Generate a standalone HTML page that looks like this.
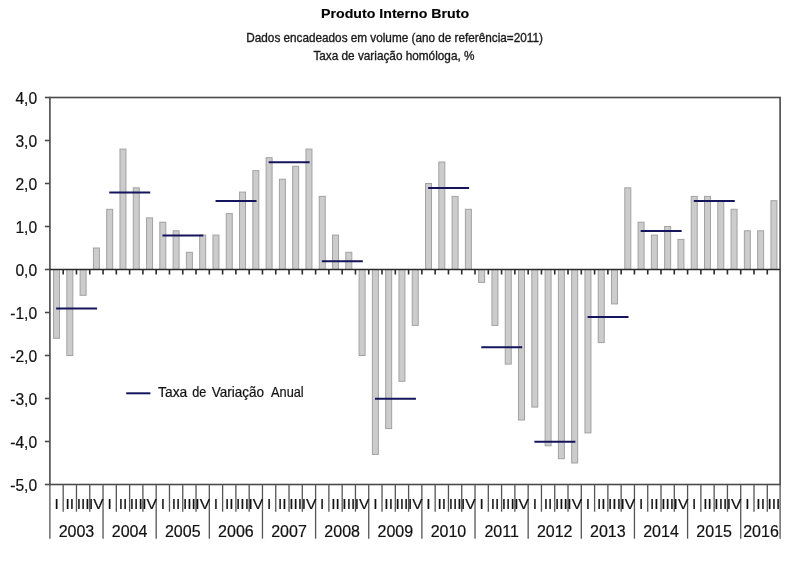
<!DOCTYPE html>
<html><head><meta charset="utf-8">
<style>
html,body{margin:0;padding:0;background:#fff;width:806px;height:561px;overflow:hidden;}
svg{position:absolute;left:0;top:0;will-change:transform;filter:blur(0.35px);}
text{font-family:"Liberation Sans",sans-serif;}
.ax{font-size:15.6px;}
.q{font-size:15.5px;}
.yr{font-size:16px;}
</style></head><body>
<svg width="806" height="561" viewBox="0 0 806 561">
<g fill="#cccccc" stroke="#a2a2a2" stroke-width="1"><rect x="53.54" y="269.50" width="6.00" height="68.80"/><rect x="66.83" y="269.50" width="6.00" height="86.00"/><rect x="80.11" y="269.50" width="6.00" height="25.80"/><rect x="93.40" y="248.00" width="6.00" height="21.50"/><rect x="106.68" y="209.30" width="6.00" height="60.20"/><rect x="119.97" y="149.10" width="6.00" height="120.40"/><rect x="133.25" y="187.80" width="6.00" height="81.70"/><rect x="146.54" y="217.90" width="6.00" height="51.60"/><rect x="159.82" y="222.20" width="6.00" height="47.30"/><rect x="173.11" y="230.80" width="6.00" height="38.70"/><rect x="186.39" y="252.30" width="6.00" height="17.20"/><rect x="199.68" y="235.10" width="6.00" height="34.40"/><rect x="212.96" y="235.10" width="6.00" height="34.40"/><rect x="226.25" y="213.60" width="6.00" height="55.90"/><rect x="239.53" y="192.10" width="6.00" height="77.40"/><rect x="252.82" y="170.60" width="6.00" height="98.90"/><rect x="266.10" y="157.70" width="6.00" height="111.80"/><rect x="279.39" y="179.20" width="6.00" height="90.30"/><rect x="292.67" y="166.30" width="6.00" height="103.20"/><rect x="305.96" y="149.10" width="6.00" height="120.40"/><rect x="319.24" y="196.40" width="6.00" height="73.10"/><rect x="332.53" y="235.10" width="6.00" height="34.40"/><rect x="345.81" y="252.30" width="6.00" height="17.20"/><rect x="359.10" y="269.50" width="6.00" height="86.00"/><rect x="372.38" y="269.50" width="6.00" height="184.90"/><rect x="385.67" y="269.50" width="6.00" height="159.10"/><rect x="398.95" y="269.50" width="6.00" height="111.80"/><rect x="412.24" y="269.50" width="6.00" height="55.90"/><rect x="425.52" y="183.50" width="6.00" height="86.00"/><rect x="438.81" y="162.00" width="6.00" height="107.50"/><rect x="452.09" y="196.40" width="6.00" height="73.10"/><rect x="465.38" y="209.30" width="6.00" height="60.20"/><rect x="478.66" y="269.50" width="6.00" height="12.90"/><rect x="491.95" y="269.50" width="6.00" height="55.90"/><rect x="505.23" y="269.50" width="6.00" height="94.60"/><rect x="518.52" y="269.50" width="6.00" height="150.50"/><rect x="531.80" y="269.50" width="6.00" height="137.60"/><rect x="545.09" y="269.50" width="6.00" height="176.30"/><rect x="558.37" y="269.50" width="6.00" height="189.20"/><rect x="571.66" y="269.50" width="6.00" height="193.50"/><rect x="584.94" y="269.50" width="6.00" height="163.40"/><rect x="598.23" y="269.50" width="6.00" height="73.10"/><rect x="611.51" y="269.50" width="6.00" height="34.40"/><rect x="624.80" y="187.80" width="6.00" height="81.70"/><rect x="638.08" y="222.20" width="6.00" height="47.30"/><rect x="651.37" y="235.10" width="6.00" height="34.40"/><rect x="664.65" y="226.50" width="6.00" height="43.00"/><rect x="677.94" y="239.40" width="6.00" height="30.10"/><rect x="691.22" y="196.40" width="6.00" height="73.10"/><rect x="704.51" y="196.40" width="6.00" height="73.10"/><rect x="717.79" y="200.70" width="6.00" height="68.80"/><rect x="731.08" y="209.30" width="6.00" height="60.20"/><rect x="744.36" y="230.80" width="6.00" height="38.70"/><rect x="757.65" y="230.80" width="6.00" height="38.70"/><rect x="770.93" y="200.70" width="6.00" height="68.80"/></g>
<rect x="49.90" y="97.50" width="730.20" height="387.00" fill="none" stroke="#4a4a4a" stroke-width="1.6"/>
<g stroke="#4a4a4a" stroke-width="1.6"><line x1="44.9" y1="97.50" x2="49.90" y2="97.50"/><line x1="44.9" y1="140.50" x2="49.90" y2="140.50"/><line x1="44.9" y1="183.50" x2="49.90" y2="183.50"/><line x1="44.9" y1="226.50" x2="49.90" y2="226.50"/><line x1="44.9" y1="269.50" x2="49.90" y2="269.50"/><line x1="44.9" y1="312.50" x2="49.90" y2="312.50"/><line x1="44.9" y1="355.50" x2="49.90" y2="355.50"/><line x1="44.9" y1="398.50" x2="49.90" y2="398.50"/><line x1="44.9" y1="441.50" x2="49.90" y2="441.50"/><line x1="44.9" y1="484.50" x2="49.90" y2="484.50"/></g>
<g stroke="#2a2a2a" stroke-width="1.6"><line x1="49.90" y1="269.50" x2="780.10" y2="269.50"/><line x1="63.19" y1="269.50" x2="63.19" y2="274.50"/><line x1="76.47" y1="269.50" x2="76.47" y2="274.50"/><line x1="89.75" y1="269.50" x2="89.75" y2="274.50"/><line x1="103.04" y1="269.50" x2="103.04" y2="274.50"/><line x1="116.32" y1="269.50" x2="116.32" y2="274.50"/><line x1="129.61" y1="269.50" x2="129.61" y2="274.50"/><line x1="142.90" y1="269.50" x2="142.90" y2="274.50"/><line x1="156.18" y1="269.50" x2="156.18" y2="274.50"/><line x1="169.47" y1="269.50" x2="169.47" y2="274.50"/><line x1="182.75" y1="269.50" x2="182.75" y2="274.50"/><line x1="196.03" y1="269.50" x2="196.03" y2="274.50"/><line x1="209.32" y1="269.50" x2="209.32" y2="274.50"/><line x1="222.61" y1="269.50" x2="222.61" y2="274.50"/><line x1="235.89" y1="269.50" x2="235.89" y2="274.50"/><line x1="249.18" y1="269.50" x2="249.18" y2="274.50"/><line x1="262.46" y1="269.50" x2="262.46" y2="274.50"/><line x1="275.75" y1="269.50" x2="275.75" y2="274.50"/><line x1="289.03" y1="269.50" x2="289.03" y2="274.50"/><line x1="302.31" y1="269.50" x2="302.31" y2="274.50"/><line x1="315.60" y1="269.50" x2="315.60" y2="274.50"/><line x1="328.88" y1="269.50" x2="328.88" y2="274.50"/><line x1="342.17" y1="269.50" x2="342.17" y2="274.50"/><line x1="355.45" y1="269.50" x2="355.45" y2="274.50"/><line x1="368.74" y1="269.50" x2="368.74" y2="274.50"/><line x1="382.02" y1="269.50" x2="382.02" y2="274.50"/><line x1="395.31" y1="269.50" x2="395.31" y2="274.50"/><line x1="408.59" y1="269.50" x2="408.59" y2="274.50"/><line x1="421.88" y1="269.50" x2="421.88" y2="274.50"/><line x1="435.16" y1="269.50" x2="435.16" y2="274.50"/><line x1="448.45" y1="269.50" x2="448.45" y2="274.50"/><line x1="461.73" y1="269.50" x2="461.73" y2="274.50"/><line x1="475.02" y1="269.50" x2="475.02" y2="274.50"/><line x1="488.31" y1="269.50" x2="488.31" y2="274.50"/><line x1="501.59" y1="269.50" x2="501.59" y2="274.50"/><line x1="514.88" y1="269.50" x2="514.88" y2="274.50"/><line x1="528.16" y1="269.50" x2="528.16" y2="274.50"/><line x1="541.45" y1="269.50" x2="541.45" y2="274.50"/><line x1="554.73" y1="269.50" x2="554.73" y2="274.50"/><line x1="568.01" y1="269.50" x2="568.01" y2="274.50"/><line x1="581.30" y1="269.50" x2="581.30" y2="274.50"/><line x1="594.59" y1="269.50" x2="594.59" y2="274.50"/><line x1="607.87" y1="269.50" x2="607.87" y2="274.50"/><line x1="621.15" y1="269.50" x2="621.15" y2="274.50"/><line x1="634.44" y1="269.50" x2="634.44" y2="274.50"/><line x1="647.73" y1="269.50" x2="647.73" y2="274.50"/><line x1="661.01" y1="269.50" x2="661.01" y2="274.50"/><line x1="674.29" y1="269.50" x2="674.29" y2="274.50"/><line x1="687.58" y1="269.50" x2="687.58" y2="274.50"/><line x1="700.87" y1="269.50" x2="700.87" y2="274.50"/><line x1="714.15" y1="269.50" x2="714.15" y2="274.50"/><line x1="727.43" y1="269.50" x2="727.43" y2="274.50"/><line x1="740.72" y1="269.50" x2="740.72" y2="274.50"/><line x1="754.00" y1="269.50" x2="754.00" y2="274.50"/><line x1="767.29" y1="269.50" x2="767.29" y2="274.50"/></g>
<g stroke="#555" stroke-width="1.3"><line x1="49.90" y1="484.50" x2="49.90" y2="538.7"/><line x1="63.19" y1="484.50" x2="63.19" y2="511.7"/><line x1="76.47" y1="484.50" x2="76.47" y2="511.7"/><line x1="89.75" y1="484.50" x2="89.75" y2="511.7"/><line x1="103.04" y1="484.50" x2="103.04" y2="538.7"/><line x1="116.32" y1="484.50" x2="116.32" y2="511.7"/><line x1="129.61" y1="484.50" x2="129.61" y2="511.7"/><line x1="142.90" y1="484.50" x2="142.90" y2="511.7"/><line x1="156.18" y1="484.50" x2="156.18" y2="538.7"/><line x1="169.47" y1="484.50" x2="169.47" y2="511.7"/><line x1="182.75" y1="484.50" x2="182.75" y2="511.7"/><line x1="196.03" y1="484.50" x2="196.03" y2="511.7"/><line x1="209.32" y1="484.50" x2="209.32" y2="538.7"/><line x1="222.61" y1="484.50" x2="222.61" y2="511.7"/><line x1="235.89" y1="484.50" x2="235.89" y2="511.7"/><line x1="249.18" y1="484.50" x2="249.18" y2="511.7"/><line x1="262.46" y1="484.50" x2="262.46" y2="538.7"/><line x1="275.75" y1="484.50" x2="275.75" y2="511.7"/><line x1="289.03" y1="484.50" x2="289.03" y2="511.7"/><line x1="302.31" y1="484.50" x2="302.31" y2="511.7"/><line x1="315.60" y1="484.50" x2="315.60" y2="538.7"/><line x1="328.88" y1="484.50" x2="328.88" y2="511.7"/><line x1="342.17" y1="484.50" x2="342.17" y2="511.7"/><line x1="355.45" y1="484.50" x2="355.45" y2="511.7"/><line x1="368.74" y1="484.50" x2="368.74" y2="538.7"/><line x1="382.02" y1="484.50" x2="382.02" y2="511.7"/><line x1="395.31" y1="484.50" x2="395.31" y2="511.7"/><line x1="408.59" y1="484.50" x2="408.59" y2="511.7"/><line x1="421.88" y1="484.50" x2="421.88" y2="538.7"/><line x1="435.16" y1="484.50" x2="435.16" y2="511.7"/><line x1="448.45" y1="484.50" x2="448.45" y2="511.7"/><line x1="461.73" y1="484.50" x2="461.73" y2="511.7"/><line x1="475.02" y1="484.50" x2="475.02" y2="538.7"/><line x1="488.31" y1="484.50" x2="488.31" y2="511.7"/><line x1="501.59" y1="484.50" x2="501.59" y2="511.7"/><line x1="514.88" y1="484.50" x2="514.88" y2="511.7"/><line x1="528.16" y1="484.50" x2="528.16" y2="538.7"/><line x1="541.45" y1="484.50" x2="541.45" y2="511.7"/><line x1="554.73" y1="484.50" x2="554.73" y2="511.7"/><line x1="568.01" y1="484.50" x2="568.01" y2="511.7"/><line x1="581.30" y1="484.50" x2="581.30" y2="538.7"/><line x1="594.59" y1="484.50" x2="594.59" y2="511.7"/><line x1="607.87" y1="484.50" x2="607.87" y2="511.7"/><line x1="621.15" y1="484.50" x2="621.15" y2="511.7"/><line x1="634.44" y1="484.50" x2="634.44" y2="538.7"/><line x1="647.73" y1="484.50" x2="647.73" y2="511.7"/><line x1="661.01" y1="484.50" x2="661.01" y2="511.7"/><line x1="674.29" y1="484.50" x2="674.29" y2="511.7"/><line x1="687.58" y1="484.50" x2="687.58" y2="538.7"/><line x1="700.87" y1="484.50" x2="700.87" y2="511.7"/><line x1="714.15" y1="484.50" x2="714.15" y2="511.7"/><line x1="727.43" y1="484.50" x2="727.43" y2="511.7"/><line x1="740.72" y1="484.50" x2="740.72" y2="538.7"/><line x1="754.00" y1="484.50" x2="754.00" y2="511.7"/><line x1="767.29" y1="484.50" x2="767.29" y2="511.7"/><line x1="780.10" y1="484.50" x2="780.10" y2="538.7"/></g>
<g stroke="#15155e" stroke-width="2"><line x1="56.14" y1="308.50" x2="97.10" y2="308.50"/><line x1="109.28" y1="192.40" x2="150.24" y2="192.40"/><line x1="162.42" y1="235.40" x2="203.38" y2="235.40"/><line x1="215.56" y1="201.00" x2="256.52" y2="201.00"/><line x1="268.70" y1="162.30" x2="309.66" y2="162.30"/><line x1="321.84" y1="261.20" x2="362.80" y2="261.20"/><line x1="374.98" y1="398.80" x2="415.94" y2="398.80"/><line x1="428.12" y1="188.10" x2="469.08" y2="188.10"/><line x1="481.26" y1="347.20" x2="522.22" y2="347.20"/><line x1="534.40" y1="441.80" x2="575.36" y2="441.80"/><line x1="587.54" y1="317.10" x2="628.50" y2="317.10"/><line x1="640.68" y1="231.10" x2="681.64" y2="231.10"/><line x1="693.82" y1="201.00" x2="734.78" y2="201.00"/></g>
<line x1="126.2" y1="393.3" x2="150.4" y2="393.3" stroke="#15155e" stroke-width="2"/>
<g fill="#111" stroke="#111" stroke-width="0.2"><text x="37.1" y="104.30" text-anchor="end" class="ax">4,0</text><text x="37.1" y="147.30" text-anchor="end" class="ax">3,0</text><text x="37.1" y="190.30" text-anchor="end" class="ax">2,0</text><text x="37.1" y="233.30" text-anchor="end" class="ax">1,0</text><text x="37.1" y="276.30" text-anchor="end" class="ax">0,0</text><text x="37.1" y="319.30" text-anchor="end" class="ax">-1,0</text><text x="37.1" y="362.30" text-anchor="end" class="ax">-2,0</text><text x="37.1" y="405.30" text-anchor="end" class="ax">-3,0</text><text x="37.1" y="448.30" text-anchor="end" class="ax">-4,0</text><text x="37.1" y="491.30" text-anchor="end" class="ax">-5,0</text><text x="56.54" y="509.0" text-anchor="middle" class="q">I</text><text x="69.83" y="509.0" text-anchor="middle" class="q">II</text><text x="83.11" y="509.0" text-anchor="middle" class="q">III</text><text x="96.40" y="509.0" text-anchor="middle" class="q">IV</text><text x="109.68" y="509.0" text-anchor="middle" class="q">I</text><text x="122.97" y="509.0" text-anchor="middle" class="q">II</text><text x="136.25" y="509.0" text-anchor="middle" class="q">III</text><text x="149.54" y="509.0" text-anchor="middle" class="q">IV</text><text x="162.82" y="509.0" text-anchor="middle" class="q">I</text><text x="176.11" y="509.0" text-anchor="middle" class="q">II</text><text x="189.39" y="509.0" text-anchor="middle" class="q">III</text><text x="202.68" y="509.0" text-anchor="middle" class="q">IV</text><text x="215.96" y="509.0" text-anchor="middle" class="q">I</text><text x="229.25" y="509.0" text-anchor="middle" class="q">II</text><text x="242.53" y="509.0" text-anchor="middle" class="q">III</text><text x="255.82" y="509.0" text-anchor="middle" class="q">IV</text><text x="269.10" y="509.0" text-anchor="middle" class="q">I</text><text x="282.39" y="509.0" text-anchor="middle" class="q">II</text><text x="295.67" y="509.0" text-anchor="middle" class="q">III</text><text x="308.96" y="509.0" text-anchor="middle" class="q">IV</text><text x="322.24" y="509.0" text-anchor="middle" class="q">I</text><text x="335.53" y="509.0" text-anchor="middle" class="q">II</text><text x="348.81" y="509.0" text-anchor="middle" class="q">III</text><text x="362.10" y="509.0" text-anchor="middle" class="q">IV</text><text x="375.38" y="509.0" text-anchor="middle" class="q">I</text><text x="388.67" y="509.0" text-anchor="middle" class="q">II</text><text x="401.95" y="509.0" text-anchor="middle" class="q">III</text><text x="415.24" y="509.0" text-anchor="middle" class="q">IV</text><text x="428.52" y="509.0" text-anchor="middle" class="q">I</text><text x="441.81" y="509.0" text-anchor="middle" class="q">II</text><text x="455.09" y="509.0" text-anchor="middle" class="q">III</text><text x="468.38" y="509.0" text-anchor="middle" class="q">IV</text><text x="481.66" y="509.0" text-anchor="middle" class="q">I</text><text x="494.95" y="509.0" text-anchor="middle" class="q">II</text><text x="508.23" y="509.0" text-anchor="middle" class="q">III</text><text x="521.52" y="509.0" text-anchor="middle" class="q">IV</text><text x="534.80" y="509.0" text-anchor="middle" class="q">I</text><text x="548.09" y="509.0" text-anchor="middle" class="q">II</text><text x="561.37" y="509.0" text-anchor="middle" class="q">III</text><text x="574.66" y="509.0" text-anchor="middle" class="q">IV</text><text x="587.94" y="509.0" text-anchor="middle" class="q">I</text><text x="601.23" y="509.0" text-anchor="middle" class="q">II</text><text x="614.51" y="509.0" text-anchor="middle" class="q">III</text><text x="627.80" y="509.0" text-anchor="middle" class="q">IV</text><text x="641.08" y="509.0" text-anchor="middle" class="q">I</text><text x="654.37" y="509.0" text-anchor="middle" class="q">II</text><text x="667.65" y="509.0" text-anchor="middle" class="q">III</text><text x="680.94" y="509.0" text-anchor="middle" class="q">IV</text><text x="694.22" y="509.0" text-anchor="middle" class="q">I</text><text x="707.51" y="509.0" text-anchor="middle" class="q">II</text><text x="720.79" y="509.0" text-anchor="middle" class="q">III</text><text x="734.08" y="509.0" text-anchor="middle" class="q">IV</text><text x="747.36" y="509.0" text-anchor="middle" class="q">I</text><text x="760.65" y="509.0" text-anchor="middle" class="q">II</text><text x="773.93" y="509.0" text-anchor="middle" class="q">III</text><text x="76.47" y="536.6" text-anchor="middle" class="yr">2003</text><text x="129.61" y="536.6" text-anchor="middle" class="yr">2004</text><text x="182.75" y="536.6" text-anchor="middle" class="yr">2005</text><text x="235.89" y="536.6" text-anchor="middle" class="yr">2006</text><text x="289.03" y="536.6" text-anchor="middle" class="yr">2007</text><text x="342.17" y="536.6" text-anchor="middle" class="yr">2008</text><text x="395.31" y="536.6" text-anchor="middle" class="yr">2009</text><text x="448.45" y="536.6" text-anchor="middle" class="yr">2010</text><text x="501.59" y="536.6" text-anchor="middle" class="yr">2011</text><text x="554.73" y="536.6" text-anchor="middle" class="yr">2012</text><text x="607.87" y="536.6" text-anchor="middle" class="yr">2013</text><text x="661.01" y="536.6" text-anchor="middle" class="yr">2014</text><text x="714.15" y="536.6" text-anchor="middle" class="yr">2015</text><text x="761.01" y="536.6" text-anchor="middle" class="yr">2016</text></g>
<text x="321.0" y="18.4" font-size="13.5" font-weight="bold" textLength="148.08" lengthAdjust="spacingAndGlyphs" fill="#000" stroke="#000" stroke-width="0.15">Produto Interno Bruto</text>
<text x="246.3" y="42.0" font-size="12.4" textLength="296.55" lengthAdjust="spacingAndGlyphs" fill="#1a1a1a" stroke="#1a1a1a" stroke-width="0.35">Dados encadeados em volume (ano de referência=2011)</text>
<text x="313.4" y="60.4" font-size="12.4" textLength="161.08" lengthAdjust="spacingAndGlyphs" fill="#1a1a1a" stroke="#1a1a1a" stroke-width="0.35">Taxa de variação homóloga, %</text>
<text x="158.1" y="396.8" font-size="14.3" textLength="29.23" lengthAdjust="spacingAndGlyphs" fill="#111" stroke="#111" stroke-width="0.2">Taxa</text>
<text x="192.2" y="396.8" font-size="14.3" textLength="14.12" lengthAdjust="spacingAndGlyphs" fill="#111" stroke="#111" stroke-width="0.2">de</text>
<text x="211.7" y="396.8" font-size="14.3" textLength="52.41" lengthAdjust="spacingAndGlyphs" fill="#111" stroke="#111" stroke-width="0.2">Variação</text>
<text x="271.0" y="396.8" font-size="14.3" textLength="32.72" lengthAdjust="spacingAndGlyphs" fill="#111" stroke="#111" stroke-width="0.2">Anual</text>
</svg>
</body></html>
